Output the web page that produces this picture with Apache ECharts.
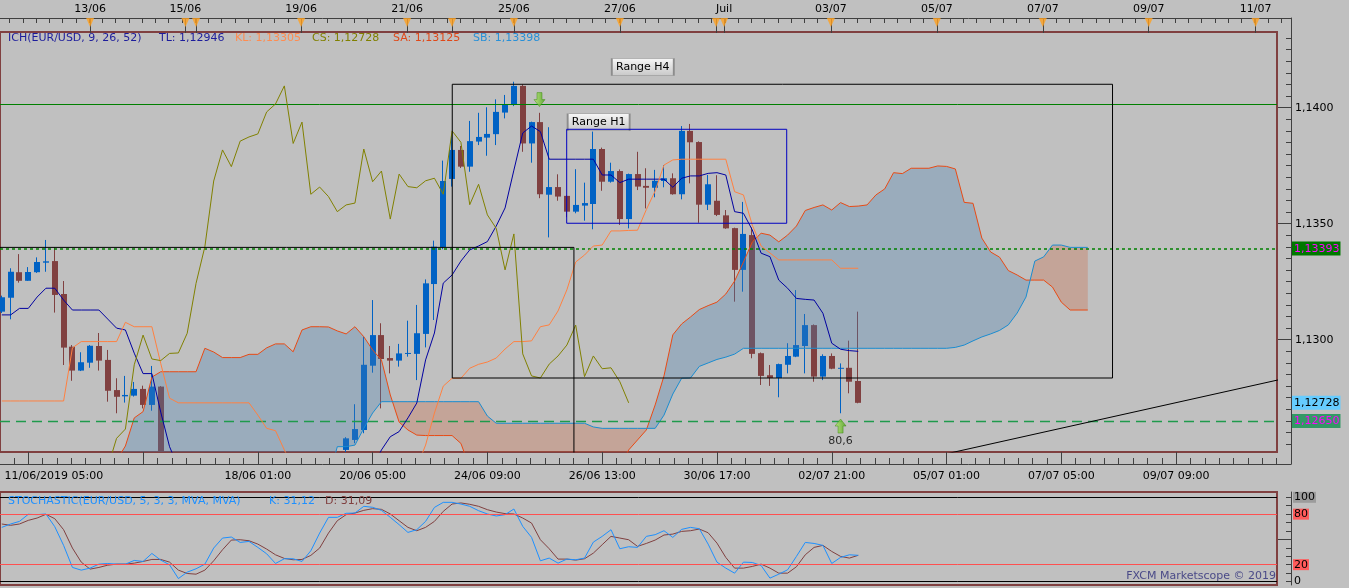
<!DOCTYPE html>
<html>
<head>
<meta charset="utf-8">
<title>EUR/USD H4 - Ichimoku</title>
<script src="https://cdn.jsdelivr.net/npm/echarts@6.0.0/dist/echarts.min.js"></script>
<style>
  html, body { margin: 0; padding: 0; background: #c0c0c0; }
  #chart { width: 1349px; height: 588px; }
</style>
</head>
<body>
<div id="chart"></div>
<script>
// H4 candles, index 0 = 11/06/2019 05:00. [open, close, low, high]
// 19..38 fell below the visible price range, so they are left out
var candles = [
  // 0-9
  [1.13121, 1.13183, 1.13115, 1.13190], [1.13181, 1.13293, 1.13088, 1.13308],
  [1.13291, 1.13254, 1.13246, 1.13369], [1.13254, 1.13292, 1.13254, 1.13313],
  [1.13291, 1.13335, 1.13288, 1.13355], [1.13332, 1.13338, 1.13293, 1.13430],
  [1.13339, 1.13193, 1.13117, 1.13398], [1.13197, 1.12966, 1.12891, 1.13253],
  [1.12970, 1.12867, 1.12823, 1.12977], [1.12867, 1.12903, 1.12865, 1.12946],
  // 10-19
  [1.12901, 1.12974, 1.12879, 1.12977], [1.12973, 1.12910, 1.12867, 1.13029],
  [1.12913, 1.12780, 1.12733, 1.12956], [1.12783, 1.12754, 1.12683, 1.12834],
  [1.12756, 1.12762, 1.12729, 1.12844], [1.12759, 1.12788, 1.12755, 1.12818],
  [1.12788, 1.12719, 1.12704, 1.12802], [1.12719, 1.12798, 1.12694, 1.12887],
  [1.12798, 1.12400, 1.12300, 1.12800], null,
  // 20-29
  null, null, null, null, null, null, null, null, null, null,
  // 30-39
  null, null, null, null, null, null, null, null, null,
  [1.12525, 1.12575, 1.12480, 1.12580],
  // 40-49
  [1.12568, 1.12615, 1.12554, 1.12722], [1.12611, 1.12892, 1.12597, 1.13013],
  [1.12888, 1.13020, 1.12858, 1.13171], [1.13020, 1.12917, 1.12704, 1.13071],
  [1.12921, 1.12910, 1.12855, 1.12973], [1.12910, 1.12941, 1.12884, 1.12982],
  [1.12939, 1.12943, 1.12927, 1.13082], [1.12939, 1.13028, 1.12826, 1.13150],
  [1.13025, 1.13243, 1.12967, 1.13260], [1.13240, 1.13401, 1.13085, 1.13427],
  // 50-59
  [1.13399, 1.13684, 1.13390, 1.13772], [1.13693, 1.13818, 1.13660, 1.13882],
  [1.13818, 1.13746, 1.13740, 1.13835], [1.13746, 1.13856, 1.13724, 1.13943],
  [1.13854, 1.13874, 1.13839, 1.13978], [1.13871, 1.13887, 1.13793, 1.14002],
  [1.13886, 1.13982, 1.13839, 1.14036], [1.13979, 1.14016, 1.13954, 1.14055],
  [1.14013, 1.14094, 1.14007, 1.14112], [1.14094, 1.13846, 1.13810, 1.14100],
  // 60-69
  [1.13846, 1.13938, 1.13763, 1.13940], [1.13938, 1.13627, 1.13610, 1.13978],
  [1.13625, 1.13658, 1.13441, 1.13916], [1.13658, 1.13617, 1.13599, 1.13713],
  [1.13620, 1.13552, 1.13528, 1.13622], [1.13552, 1.13581, 1.13545, 1.13735],
  [1.13578, 1.13589, 1.13513, 1.13677], [1.13585, 1.13822, 1.13476, 1.13897],
  [1.13822, 1.13681, 1.13642, 1.13828], [1.13681, 1.13727, 1.13677, 1.13763],
  // 70-79
  [1.13727, 1.13520, 1.13495, 1.13734], [1.13520, 1.13714, 1.13480, 1.13716],
  [1.13714, 1.13660, 1.13645, 1.13810], [1.13663, 1.13655, 1.13566, 1.13739],
  [1.13655, 1.13685, 1.13614, 1.13732], [1.13684, 1.13696, 1.13657, 1.13753],
  [1.13696, 1.13627, 1.13625, 1.13717], [1.13627, 1.13900, 1.13605, 1.13921],
  [1.13900, 1.13851, 1.13674, 1.13930], [1.13852, 1.13582, 1.13504, 1.13855],
  // 80-89
  [1.13582, 1.13670, 1.13559, 1.13710], [1.13599, 1.13538, 1.13533, 1.13709],
  [1.13536, 1.13480, 1.13478, 1.13559], [1.13481, 1.13301, 1.13164, 1.13483],
  [1.13301, 1.13456, 1.13207, 1.13594], [1.13451, 1.12939, 1.12920, 1.13484],
  [1.12942, 1.12844, 1.12805, 1.12945], [1.12847, 1.12835, 1.12801, 1.12891],
  [1.12835, 1.12895, 1.12752, 1.12897], [1.12892, 1.12930, 1.12855, 1.12985],
  // 90-97
  [1.12927, 1.12977, 1.12925, 1.13214], [1.12973, 1.13063, 1.12855, 1.13111],
  [1.13063, 1.12841, 1.12819, 1.13066], [1.12841, 1.12930, 1.12826, 1.12937],
  [1.12930, 1.12875, 1.12873, 1.12941], [1.12875, 1.12879, 1.12683, 1.12898],
  [1.12879, 1.12819, 1.12769, 1.12996], [1.12822, 1.12728, 1.12726, 1.13121]
];

// Tenkan (TL), index 0..97
var tenkan = [
  1.13107, 1.13107, 1.13135, 1.13135, 1.13184, 1.13222, 1.13222, 1.13171, 1.13128, 1.13128,
  1.13128, 1.13128, 1.13089, 1.13050, 1.13042, 1.12942, 1.12854, 1.12854, 1.12688, 1.12539,
  1.12450, null, null, null, null, null, null, null, null, null,
  null, null, null, null, null, null, null, null, null, null,
  null, null, 1.12450, 1.12525, 1.12582, 1.12604, 1.12663, 1.12727, 1.12913, 1.13029,
  1.13244, 1.13279, 1.13339, 1.13387, 1.13404, 1.13423, 1.13490, 1.13568, 1.13731, 1.13891,
  1.13921, 1.13897, 1.13778, 1.13778, 1.13778, 1.13778, 1.13778, 1.13778, 1.13710, 1.13710,
  1.13677, 1.13692, 1.13692, 1.13692, 1.13692, 1.13692, 1.13657, 1.13696, 1.13706, 1.13706,
  1.13717, 1.13720, 1.13710, 1.13552, 1.13545, 1.13473, 1.13373, 1.13358, 1.13257, 1.13222,
  1.13178, 1.13174, 1.13171, 1.13114, 1.12985, 1.12959, 1.12953, 1.12950
];

// Kijun (KL), index 0..97
var kijun = [
  1.12736, 1.12736, 1.12736, 1.12736, 1.12736, 1.12736, 1.12736, 1.12736, 1.12965, 1.12992,
  1.12992, 1.12992, 1.12992, 1.12992, 1.13075, 1.13056, 1.13056, 1.13056, 1.12898, 1.12748,
  1.12728, 1.12728, 1.12728, 1.12728, 1.12728, 1.12728, 1.12728, 1.12728, 1.12728, 1.12675,
  1.12618, 1.12608, 1.12525, 1.12450, null, null, null, null, null, null,
  null, null, null, null, null, null, null, 1.12450, 1.12546, 1.12684,
  1.12800, 1.12834, 1.12834, 1.12877, 1.12894, 1.12904, 1.12921, 1.12960, 1.12992, 1.12992,
  1.12995, 1.13056, 1.13064, 1.13124, 1.13215, 1.13335, 1.13365, 1.13404, 1.13408, 1.13469,
  1.13469, 1.13471, 1.13472, 1.13561, 1.13641, 1.13753, 1.13775, 1.13778, 1.13778, 1.13778,
  1.13778, 1.13778, 1.13778, 1.13638, 1.13624, 1.13494, 1.13404, 1.13374, 1.13344, 1.13344,
  1.13344, 1.13344, 1.13344, 1.13344, 1.13344, 1.13308, 1.13308, 1.13308
];

// Chikou (CS), drawn from index 12 to 71
var CHIKOU_START = 12;
var chikou = [
  1.12450,
  1.12575, 1.12615, 1.12892, 1.13020, 1.12917, 1.12910, 1.12941, 1.12943, 1.13028, 1.13243,
  1.13401, 1.13684, 1.13818, 1.13746, 1.13856, 1.13874, 1.13887, 1.13982, 1.14016, 1.14094,
  1.13846, 1.13938, 1.13627, 1.13658, 1.13617, 1.13552, 1.13581, 1.13589, 1.13822, 1.13681,
  1.13727, 1.13520, 1.13714, 1.13660, 1.13655, 1.13685, 1.13696, 1.13627, 1.13900, 1.13851,
  1.13582, 1.13670, 1.13538, 1.13480, 1.13301, 1.13456, 1.12939, 1.12844, 1.12835, 1.12895,
  1.12930, 1.12977, 1.13063, 1.12841, 1.12930, 1.12875, 1.12879, 1.12819, 1.12728
];

// Senkou spans A and B, index 13..123 (cloud runs 26 bars ahead)
var SPAN_START = 13;
var spanA = [
  1.12480, 1.12542, 1.12663, 1.12690, 1.12839, 1.12862, 1.12862, 1.12862, 1.12862, 1.12862,
  1.12963, 1.12947, 1.12923, 1.12923, 1.12923, 1.12937, 1.12937, 1.12965, 1.12982, 1.12982,
  1.12948, 1.13042, 1.13056, 1.13056, 1.13055, 1.13038, 1.13025, 1.13056, 1.13013, 1.12956,
  1.12913, 1.12762, 1.12645, 1.12611, 1.12589, 1.12587, 1.12587, 1.12587, 1.12587, 1.12553,
  1.12450, 1.12420, 1.12420, 1.12420, 1.12420, 1.12420, 1.12420, 1.12420, 1.12420, 1.12420,
  1.12420, 1.12420, 1.12420, 1.12420, 1.12420, 1.12420, 1.12420, 1.12450, 1.12525, 1.12568,
  1.12611, 1.12719, 1.12844, 1.13021, 1.13068, 1.13098, 1.13130, 1.13147, 1.13162, 1.13197,
  1.13253, 1.13335, 1.13421, 1.13459, 1.13451, 1.13422, 1.13451, 1.13490, 1.13557, 1.13570,
  1.13581, 1.13559, 1.13591, 1.13574, 1.13576, 1.13581, 1.13624, 1.13650, 1.13720, 1.13716,
  1.13739, 1.13739, 1.13739, 1.13749, 1.13747, 1.13736, 1.13592, 1.13588, 1.13438, 1.13378,
  1.13356, 1.13298, 1.13279, 1.13257, 1.13257, 1.13257, 1.13227, 1.13162, 1.13128, 1.13128,
  1.13128
];
var spanB = [
  1.12400, 1.12400, 1.12400, 1.12400, 1.12400, 1.12400, 1.12400, 1.12400, 1.12400, 1.12400,
  1.12400, 1.12400, 1.12400, 1.12400, 1.12400, 1.12400, 1.12400, 1.12400, 1.12400, 1.12400,
  1.12400, 1.12400, 1.12400, 1.12400, 1.12400, 1.12539, 1.12539, 1.12546, 1.12618, 1.12684,
  1.12733, 1.12733, 1.12733, 1.12733, 1.12733, 1.12733, 1.12733, 1.12733, 1.12733, 1.12733,
  1.12733, 1.12733, 1.12671, 1.12640, 1.12640, 1.12640, 1.12640, 1.12640, 1.12640, 1.12640,
  1.12640, 1.12640, 1.12640, 1.12640, 1.12624, 1.12618, 1.12618, 1.12618, 1.12618, 1.12618,
  1.12618, 1.12618, 1.12675, 1.12766, 1.12834, 1.12835, 1.12885, 1.12900, 1.12915, 1.12925,
  1.12938, 1.12963, 1.12963, 1.12963, 1.12963, 1.12963, 1.12963, 1.12963, 1.12963, 1.12963,
  1.12963, 1.12963, 1.12963, 1.12963, 1.12963, 1.12963, 1.12963, 1.12963, 1.12963, 1.12963,
  1.12963, 1.12963, 1.12963, 1.12963, 1.12963, 1.12967, 1.12977, 1.12995, 1.13012, 1.13025,
  1.13040, 1.13064, 1.13115, 1.13184, 1.13339, 1.13357, 1.13408, 1.13408, 1.13398, 1.13398,
  1.13398
];

// Stochastic (5,3,3) K and D, index 0..97
var stochK = [
  64.3, 68.3, 71.4, 79.8, 79.4, 80.2, 65.1, 42.9, 16.7, 13.5,
  15.9, 20.6, 21.4, 20.6, 20.6, 25.0, 23.8, 33.3, 25.4, 19.8,
  3.5, 11.1, 15.1, 20.6, 39.7, 51.6, 52.8, 46.4, 47.6, 40.5,
  32.9, 21.4, 27.0, 27.0, 23.8, 36.5, 57.5, 76.2, 76.2, 81.0,
  81.3, 89.3, 88.1, 84.5, 76.2, 67.5, 58.3, 61.5, 71.4, 88.0,
  94.0, 94.0, 92.0, 89.3, 84.1, 80.2, 77.8, 79.4, 86.1, 65.5,
  52.4, 24.6, 27.8, 21.8, 26.6, 25.8, 27.8, 46.8, 53.6, 61.5,
  38.9, 41.3, 40.5, 53.6, 55.6, 60.3, 52.4, 61.9, 64.3, 62.7,
  44.4, 23.0, 15.9, 9.9, 23.0, 22.6, 19.0, 4.0, 8.7, 13.9,
  29.8, 46.4, 45.2, 42.9, 21.4, 28.6, 31.7, 31.1
];
var stochD = [
  68.3, 66.7, 68.3, 72.6, 75.4, 79.8, 74.6, 61.5, 39.7, 23.0,
  14.7, 16.7, 19.4, 20.6, 20.6, 21.8, 23.8, 26.2, 26.2, 23.0,
  13.5, 9.5, 8.7, 13.5, 24.6, 37.7, 49.2, 49.6, 48.4, 44.4,
  38.5, 31.7, 27.4, 25.8, 26.2, 31.0, 39.7, 57.5, 72.2, 79.4,
  81.3, 84.5, 86.5, 85.7, 80.2, 72.2, 64.3, 60.3, 64.3, 71.4,
  83.3, 92.0, 93.3, 91.7, 89.3, 85.3, 82.5, 80.6, 80.2, 75.4,
  69.4, 49.6, 38.9, 26.6, 26.6, 25.4, 27.0, 33.7, 43.7, 53.6,
  51.6, 49.6, 41.7, 45.2, 49.2, 55.2, 56.3, 59.5, 60.3, 62.3,
  57.9, 45.6, 28.6, 15.9, 15.9, 17.9, 20.6, 15.9, 9.9, 9.9,
  17.5, 31.7, 40.5, 42.9, 35.7, 29.8, 27.8, 31.1
];
var stochLevels = [0, 20, 80, 100];

// drawn objects: horizontal levels, ranges [x1, x2, low, high], trend line, signals
var hLevels = [1.14015, 1.13393, 1.12650];
var priceTags = [1.13393, 1.12728, 1.12650];
var rangeH4 = [51.02, 125.8, 1.12835, 1.14101];
var rangeH1 = [63.98, 88.9, 1.13502, 1.13907];
var rangeLeft = [-1, 64.8, 1.12400, 1.13398];
var rangeNames = ['Range H4', 'Range H1'];
var rangeLabelAt = [[72.6, 1.14175], [67.6, 1.13937]];
var trendLine = [[104, 1.12483], [146, 1.12839]];
var arrowDown = [60.9, 1.14035];
var arrowUp = [95, 1.12628];
var arrowUpText = '80,6';

// axis ticks and labels (positions in bar index)
var yMajor = [1.1300, 1.1350, 1.1400];
var topLabelPos = [10, 20.8, 33.9, 45.9, 58, 70, 81.8, 93.9, 105.9, 117.9, 129.9, 142];
var topLabels = ['13/06', '15/06', '19/06', '21/06', '25/06', '27/06', 'Juil', '03/07', '05/07', '07/07', '09/07', '11/07'];
var eventMarks = [10, 20.8, 22, 33.9, 45.9, 51, 58, 70, 80.9, 81.8, 93.9, 105.9, 117.9, 129.9, 142];
var bottomTickPos = [3, 16, 29, 42, 55, 68, 81, 94, 107, 120, 133];
var bottomLabelPos = [5.9, 29, 42, 55, 68, 81, 94, 107, 120, 133];
var bottomLabels = ['11/06/2019 05:00', '18/06 01:00', '20/06 05:00', '24/06 09:00', '26/06 13:00',
  '30/06 17:00', '02/07 21:00', '05/07 01:00', '07/07 05:00', '09/07 09:00'];

var legendText = ['ICH(EUR/USD, 9, 26, 52)', 'TL: 1,12946', 'KL: 1,13305', 'CS: 1,12728', 'SA: 1,13125', 'SB: 1,13398'];
var stochText = ['STOCHASTIC(EUR/USD, 5, 3, 3, MVA, MVA)', 'K: 31,12', 'D: 31,09'];

// ---------------------------------------------------------------
var FONT = 'DejaVu Sans';
var PX = 8.85, OFF = 1.2;          // bar k is drawn at x = PX*k - OFF
var YMIN = 1.125161, YMAX = 1.143263;
var SMIN = -4.16, SMAX = 106.3;
var BULL = '#0062c4', BEAR = '#804040';
var CLOUD_UP = 'rgba(70,130,180,0.31)', CLOUD_DN = 'rgba(205,100,60,0.30)';
var AXIS = '#404040';

function kAt(x) { return (x + OFF) / PX; }
function fmt(v, d) { return v.toFixed(d).replace('.', ','); }
function nearest(arr, v) {
  var b = 0;
  for (var i = 1; i < arr.length; i++) if (Math.abs(arr[i] - v) < Math.abs(arr[b] - v)) b = i;
  return b;
}
function pairs(start, arr) { return arr.map(function (v, i) { return [start + i, v]; }); }
function rectPath(r) { return [[r[0], r[2]], [r[1], r[2]], [r[1], r[3]], [r[0], r[3]], [r[0], r[2]]]; }
function clipOf(cs) { return { type: 'rect', shape: { x: cs.x, y: cs.y, width: cs.width, height: cs.height } }; }

var candleData = [];
candles.forEach(function (c, k) { if (c) candleData.push([k, c[0], c[1], c[2], c[3]]); });

var yMinor = [];
for (var i = 0; i <= 36; i++) yMinor.push(+(1.1255 + i * 0.0005).toFixed(4));
var topMinor = [];
for (var t = 0.9; t < 146; t += 1.5) topMinor.push(t);
var bottomMinor = [];
for (var b = 3 - 13 / 8; b < 146; b += 13 / 8) bottomMinor.push(b);
var stochMinor = [0, 10, 20, 30, 40, 50, 60, 70, 80, 90, 100];

function renderCandle(params, api) {
  var k = api.value(0), o = api.value(1), c = api.value(2), lo = api.value(3), hi = api.value(4);
  var pt = api.coord([k, Math.max(o, c)]), pb = api.coord([k, Math.min(o, c)]);
  var ph = api.coord([k, hi]), pl = api.coord([k, lo]);
  var x = Math.round(pt[0]);
  var color = c >= o ? BULL : BEAR;
  return {
    type: 'group',
    clipPath: clipOf(params.coordSys),
    children: [
      { type: 'line', shape: { x1: x - 0.5, y1: ph[1], x2: x - 0.5, y2: pl[1] }, style: { stroke: color, lineWidth: 1 } },
      { type: 'rect', shape: { x: x - 3, y: pt[1], width: 6, height: Math.max(1, pb[1] - pt[1]) }, style: { fill: color } }
    ]
  };
}

// the whole cloud as one item: a polygon for each stretch where A stays above or below B
function renderCloud(params, api) {
  var polys = [], top = [], bot = [], sign = 0;
  function close() {
    if (top.length > 1) {
      polys.push({ type: 'polygon', shape: { points: top.concat(bot.slice().reverse()) },
        style: { fill: sign > 0 ? CLOUD_UP : CLOUD_DN } });
    }
  }
  for (var i = 0; i < spanA.length; i++) {
    var k = SPAN_START + i, a = spanA[i], b = spanB[i], s = a - b >= 0 ? 1 : -1;
    if (i > 0 && s !== sign) {
      var pa = spanA[i - 1], pd = pa - spanB[i - 1], d = a - b;
      var f = pd / (pd - d);
      var cp = api.coord([k - 1 + f, pa + f * (a - pa)]);
      top.push(cp); bot.push(cp);
      close();
      top = [cp]; bot = [cp];
    }
    sign = s;
    top.push(api.coord([k, a]));
    bot.push(api.coord([k, b]));
  }
  close();
  return { type: 'group', clipPath: clipOf(params.coordSys), children: polys };
}

function priceLine(name, data, color, z) {
  return { name: name, type: 'line', xAxisIndex: 0, yAxisIndex: 0, data: data, symbol: 'none',
    showSymbol: false, silent: true, clip: true, z: z, lineStyle: { color: color, width: 1 } };
}

var labelBg = { type: 'linear', x: 0, y: 0, x2: 0, y2: 1,
  colorStops: [{ offset: 0, color: '#f6f6f6' }, { offset: 1, color: '#c8c8c8' }] };
var arrowBg = { type: 'linear', x: 0, y: 0, x2: 1, y2: 0,
  colorStops: [{ offset: 0, color: '#b8ec70' }, { offset: 1, color: '#4aa014' }] };

function rangeLabel(i) {
  return {
    silent: true, symbol: 'rect', symbolSize: [62, 17],
    itemStyle: { color: labelBg, borderColor: '#8c8c8c', borderWidth: 1 },
    label: { show: true, position: 'inside', formatter: '{b}', color: '#000', fontSize: 11, fontFamily: FONT },
    data: [{ name: rangeNames[i], coord: rangeLabelAt[i] }]
  };
}

var noSplit = { show: false };
var mainX = { type: 'value', min: kAt(-3), max: kAt(1277), show: false, splitLine: noSplit };
var bandX = { min: kAt(-3), max: kAt(1291) };
var axisFont = { color: '#000', fontSize: 11, fontFamily: FONT };

var option = {
  animation: false,
  backgroundColor: '#c0c0c0',
  textStyle: { fontFamily: FONT, fontSize: 11 },
  title: [
    { text: legendText[0], left: 8, top: 33, padding: 0, textStyle: { color: '#1c1c9c', fontSize: 11, fontWeight: 'normal' } },
    { text: legendText[1], left: 159, top: 33, padding: 0, textStyle: { color: '#1c1c9c', fontSize: 11, fontWeight: 'normal' } },
    { text: legendText[2], left: 235, top: 33, padding: 0, textStyle: { color: '#ff8c50', fontSize: 11, fontWeight: 'normal' } },
    { text: legendText[3], left: 312, top: 33, padding: 0, textStyle: { color: '#808000', fontSize: 11, fontWeight: 'normal' } },
    { text: legendText[4], left: 393, top: 33, padding: 0, textStyle: { color: '#e04818', fontSize: 11, fontWeight: 'normal' } },
    { text: legendText[5], left: 473, top: 33, padding: 0, textStyle: { color: '#2890d8', fontSize: 11, fontWeight: 'normal' } },
    { text: stochText[0], left: 8, top: 496, padding: 0, textStyle: { color: '#1e90ff', fontSize: 11, fontWeight: 'normal' } },
    { text: stochText[1], left: 269, top: 496, padding: 0, textStyle: { color: '#1e90ff', fontSize: 11, fontWeight: 'normal' } },
    { text: stochText[2], left: 325, top: 496, padding: 0, textStyle: { color: '#804040', fontSize: 11, fontWeight: 'normal' } },
    { text: 'FXCM Marketscope \u00a9 2019', right: 73, top: 571, padding: 0, textStyle: { color: '#4a4a88', fontSize: 11, fontWeight: 'normal' } }
  ],
  grid: [
    { left: -3, top: 32, width: 1280, height: 420, show: true, borderColor: '#804040', borderWidth: 2 },
    { left: -3, top: 18, width: 1294, height: 14, show: false },
    { left: -3, top: 452, width: 1294, height: 12, show: false },
    { left: -3, top: 492, width: 1280, height: 93, show: true, borderColor: '#804040', borderWidth: 2 }
  ],
  xAxis: [
    Object.assign({ gridIndex: 0 }, mainX),
    Object.assign({ gridIndex: 3 }, mainX),
    { type: 'value', gridIndex: 1, min: bandX.min, max: bandX.max, position: 'top',
      axisLine: { show: true, onZero: false, lineStyle: { color: AXIS } },
      axisTick: { show: true, inside: true, length: 5, customValues: topMinor, lineStyle: { color: AXIS } },
      axisLabel: { show: false }, splitLine: noSplit },
    { type: 'value', gridIndex: 1, min: bandX.min, max: bandX.max, position: 'top',
      axisLine: { show: false, onZero: false },
      axisTick: { show: true, inside: true, length: 15, customValues: eventMarks, lineStyle: { color: AXIS } },
      axisLabel: Object.assign({ show: true, margin: 3, customValues: topLabelPos,
        formatter: function (v) { return topLabels[nearest(topLabelPos, v)]; } }, axisFont),
      splitLine: noSplit },
    { type: 'value', gridIndex: 2, min: bandX.min, max: bandX.max, position: 'bottom',
      axisLine: { show: true, onZero: false, lineStyle: { color: AXIS } },
      axisTick: { show: true, inside: true, length: 6, customValues: bottomMinor, lineStyle: { color: AXIS } },
      axisLabel: { show: false }, splitLine: noSplit },
    { type: 'value', gridIndex: 2, min: bandX.min, max: bandX.max, position: 'bottom',
      axisLine: { show: false, onZero: false },
      axisTick: { show: true, inside: true, length: 12, customValues: bottomTickPos, lineStyle: { color: AXIS } },
      axisLabel: Object.assign({ show: true, margin: 7, customValues: bottomLabelPos,
        formatter: function (v) { return bottomLabels[nearest(bottomLabelPos, v)]; } }, axisFont),
      splitLine: noSplit }
  ],
  yAxis: [
    { type: 'value', gridIndex: 0, min: YMIN, max: YMAX, position: 'right', offset: 14,
      axisLine: { show: true, onZero: false, lineStyle: { color: AXIS } },
      axisTick: { show: true, inside: true, length: 5, customValues: yMinor, lineStyle: { color: AXIS } },
      axisLabel: { show: false }, splitLine: noSplit },
    { type: 'value', gridIndex: 0, min: YMIN, max: YMAX, position: 'right', offset: 14,
      axisLine: { show: false, onZero: false },
      axisTick: { show: true, inside: true, length: 13, customValues: yMajor, lineStyle: { color: AXIS } },
      axisLabel: Object.assign({ show: true, margin: 4, customValues: yMajor,
        formatter: function (v) { return fmt(v, 4); } }, axisFont),
      splitLine: noSplit },
    { type: 'value', gridIndex: 0, min: YMIN, max: YMAX, position: 'right', offset: 14,
      axisLine: { show: false, onZero: false }, axisTick: { show: false },
      axisLabel: { show: true, margin: 1, customValues: priceTags, fontFamily: FONT, fontSize: 11,
        formatter: function (v) { return '{t' + nearest(priceTags, v) + '|' + fmt(v, 5) + '}'; },
        rich: {
          t0: { backgroundColor: '#007800', color: '#ff00ff', padding: [2, 1, 1, 2], fontSize: 11, fontFamily: FONT },
          t1: { backgroundColor: '#66ccff', color: '#000000', padding: [2, 1, 1, 2], fontSize: 11, fontFamily: FONT },
          t2: { backgroundColor: '#339966', color: '#ff00ff', padding: [2, 1, 1, 2], fontSize: 11, fontFamily: FONT }
        } },
      splitLine: noSplit },
    { type: 'value', gridIndex: 1, min: 0, max: 1, position: 'right',
      axisLine: { show: true, onZero: false, lineStyle: { color: AXIS } },
      axisTick: { show: false }, axisLabel: { show: false }, splitLine: noSplit },
    { type: 'value', gridIndex: 2, min: 0, max: 1, position: 'right',
      axisLine: { show: true, onZero: false, lineStyle: { color: AXIS } },
      axisTick: { show: false }, axisLabel: { show: false }, splitLine: noSplit },
    { type: 'value', gridIndex: 3, min: SMIN, max: SMAX, position: 'right', offset: 14,
      axisLine: { show: true, onZero: false, lineStyle: { color: AXIS } },
      axisTick: { show: true, inside: true, length: 5, customValues: stochMinor, lineStyle: { color: AXIS } },
      axisLabel: { show: false }, splitLine: noSplit },
    { type: 'value', gridIndex: 3, min: SMIN, max: SMAX, position: 'right', offset: 14,
      axisLine: { show: false, onZero: false },
      axisTick: { show: true, inside: true, length: 13, customValues: [50], lineStyle: { color: AXIS } },
      axisLabel: { show: true, margin: 2, customValues: stochLevels, fontFamily: FONT, fontSize: 11,
        formatter: function (v) { return '{s' + nearest(stochLevels, v) + '|' + Math.round(v) + '}'; },
        rich: {
          s0: { color: '#000', padding: [0, 1], fontSize: 11, fontFamily: FONT },
          s1: { color: '#000', backgroundColor: '#ff5a5a', padding: [0, 1], fontSize: 11, fontFamily: FONT },
          s2: { color: '#000', backgroundColor: '#ff5a5a', padding: [0, 1], fontSize: 11, fontFamily: FONT },
          s3: { color: '#000', backgroundColor: '#9c9c9c', padding: [0, 1], fontSize: 11, fontFamily: FONT }
        } },
      splitLine: noSplit }
  ],
  series: [
    { name: 'candles', type: 'custom', xAxisIndex: 0, yAxisIndex: 0, z: 2, silent: true,
      renderItem: renderCandle, data: candleData, encode: { x: 0, y: [1, 2, 3, 4] } },
    { name: 'cloud', type: 'custom', xAxisIndex: 0, yAxisIndex: 0, z: 3, silent: true,
      renderItem: renderCloud, data: [[SPAN_START, spanA[0]]], encode: { x: 0, y: 1 } },
    priceLine('SA', pairs(SPAN_START, spanA), '#e84a14', 4),
    priceLine('SB', pairs(SPAN_START, spanB), '#1a8cd0', 4),
    priceLine('TL', pairs(0, tenkan), '#0000a0', 5),
    priceLine('KL', pairs(0, kijun), '#ff8040', 5),
    priceLine('CS', pairs(CHIKOU_START, chikou), '#808000', 5),
    Object.assign(priceLine('levels', [], '#008000', 6), {
      markLine: { silent: true, symbol: ['none', 'none'], label: { show: false }, animation: false, precision: 5,
        data: [
          { yAxis: hLevels[0], lineStyle: { color: '#008000', width: 1, type: 'solid' } },
          { yAxis: hLevels[1], lineStyle: { color: '#008000', width: 1.5, type: [3, 3] } },
          { yAxis: hLevels[2], lineStyle: { color: '#1f9a4c', width: 1.3, type: [10, 6] } }
        ] } }),
    priceLine('rangeLeft', rectPath(rangeLeft), '#000000', 6),
    Object.assign(priceLine('rangeH4', rectPath(rangeH4), '#000000', 6), { markPoint: rangeLabel(0) }),
    Object.assign(priceLine('rangeH1', rectPath(rangeH1), '#0000c0', 6), { markPoint: rangeLabel(1) }),
    priceLine('trend', trendLine, '#000000', 6),
    { name: 'signals', type: 'scatter', xAxisIndex: 0, yAxisIndex: 0, z: 7, silent: true,
      symbolSize: [11, 14],
      itemStyle: { color: arrowBg, borderColor: '#3c8c10', borderWidth: 0.6 },
      data: [
        { value: arrowDown, symbol: 'path://M3,0 L8,0 L8,6 L11,6 L5.5,12 L0,6 L3,6 Z' },
        { value: arrowUp, symbol: 'path://M5.5,0 L11,6 L8,6 L8,12 L3,12 L3,6 L0,6 Z',
          label: { show: true, position: 'bottom', distance: 2, formatter: arrowUpText, color: '#000', fontSize: 11, fontFamily: FONT } }
      ] },
    { name: 'events', type: 'scatter', xAxisIndex: 2, yAxisIndex: 3, z: 5, silent: true,
      symbol: 'path://M0,0 L8,0 L4,9 Z', symbolSize: [8, 9],
      itemStyle: { color: '#ffa01e' },
      data: eventMarks.map(function (k) { return [k, 0.68]; }) },
    { name: 'stochLevels', type: 'line', xAxisIndex: 1, yAxisIndex: 5, data: [], z: 2, silent: true,
      markLine: { silent: true, symbol: ['none', 'none'], label: { show: false }, animation: false,
        data: stochLevels.map(function (v) {
          return { yAxis: v, lineStyle: { color: (v === 0 || v === 100) ? '#000000' : '#ff5050', width: 1, type: 'solid' } };
        }) } },
    { name: 'D', type: 'line', xAxisIndex: 1, yAxisIndex: 5, data: pairs(0, stochD), z: 3, silent: true,
      symbol: 'none', lineStyle: { color: '#804040', width: 1 } },
    { name: 'K', type: 'line', xAxisIndex: 1, yAxisIndex: 5, data: pairs(0, stochK), z: 4, silent: true,
      symbol: 'none', lineStyle: { color: '#1e90ff', width: 1 } }
  ]
};

var chart = echarts.init(document.getElementById('chart'));
chart.setOption(option);
</script>
</body>
</html>
